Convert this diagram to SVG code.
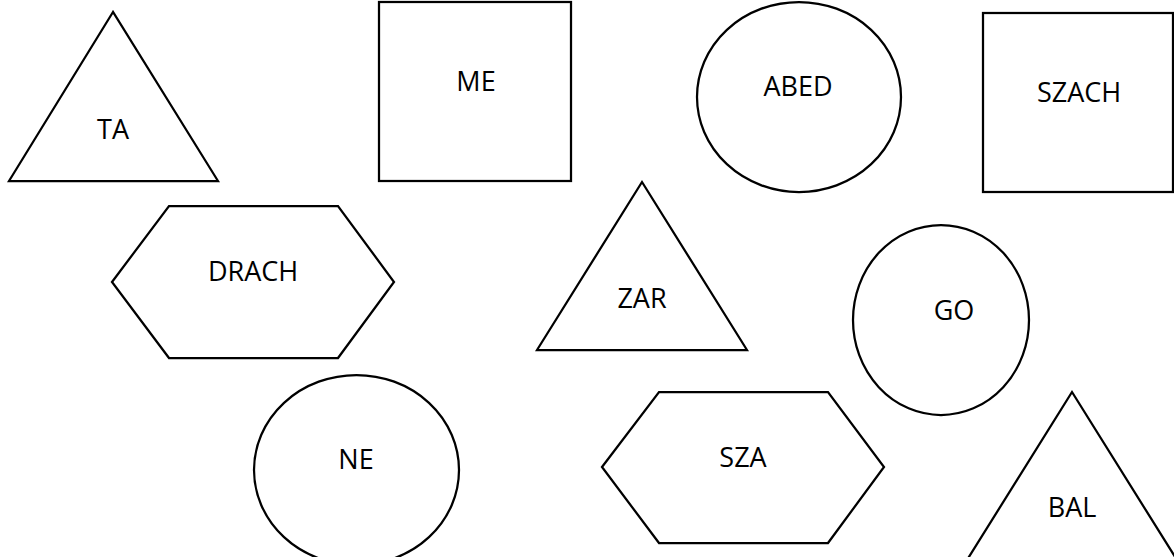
<svg xmlns="http://www.w3.org/2000/svg" width="1174" height="557" viewBox="0 0 1174 557">
<style>
.s{fill:#fff;stroke:#000;stroke-width:2.25;stroke-linejoin:miter}
.t{font-family:"Open Sans","Liberation Sans",sans-serif;font-size:27px;fill:#000;text-anchor:middle}
</style>
<rect width="1174" height="557" fill="#fff"/>
<g id="connectors"></g>
<g id="TA"><polygon class="s" points="113,12 9,181 218,181"/><text class="t" x="113" y="139">TA</text></g>
<g id="ME"><rect class="s" x="379" y="2" width="192" height="179"/><text class="t" x="476" y="91">ME</text></g>
<g id="ABED"><ellipse class="s" cx="799" cy="97" rx="102" ry="95"/><text class="t" x="798" y="96">ABED</text></g>
<g id="SZACH"><rect class="s" x="983" y="13" width="190" height="179"/><text class="t" x="1079" y="102">SZACH</text></g>
<g id="DRACH"><polygon class="s" points="112,282 169,206 338,206 394,282 338,358 169,358"/><text class="t" x="253" y="281">DRACH</text></g>
<g id="ZAR"><polygon class="s" points="642,182 537,350 747,350"/><text class="t" x="642" y="308">ZAR</text></g>
<g id="GO"><ellipse class="s" cx="941" cy="320" rx="88" ry="95"/><text class="t" x="954" y="320">GO</text></g>
<g id="NE"><ellipse class="s" cx="356.5" cy="470" rx="102.5" ry="95"/><text class="t" x="356" y="469">NE</text></g>
<g id="SZA"><polygon class="s" points="602,467 659,392 828,392 884,467 828,543 659,543"/><text class="t" x="743" y="467">SZA</text></g>
<g id="BAL"><polygon class="s" points="1072,392 967,560 1177,560"/><text class="t" x="1072" y="517">BAL</text></g>
</svg>
